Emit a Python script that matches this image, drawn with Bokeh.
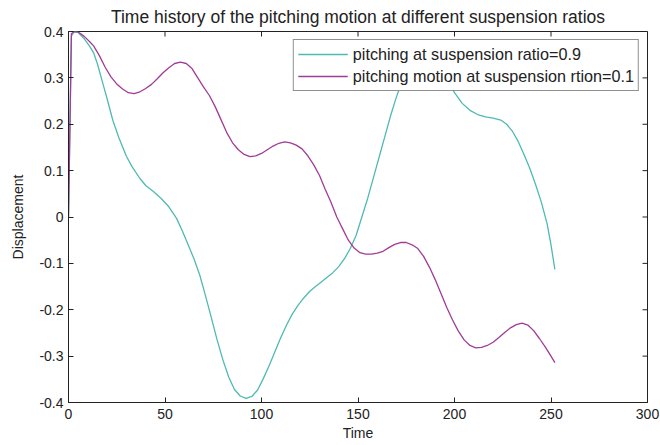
import math
from bokeh.plotting import figure
from bokeh.models import LinearAxis, Range1d, Legend, LegendItem, FixedTicker
from bokeh.embed import file_html
from bokeh.resources import INLINE

# ratio 0.9 (cyan)
t_09 = [0, 1.5, 3, 5, 8, 11, 13, 15, 18, 20, 23, 26, 30, 33, 37, 40, 44, 48, 52, 56,
        59, 62, 65, 68, 71, 74, 77, 80, 83, 86, 89, 92, 95, 98, 101, 104, 107, 110, 113,
        116, 119, 122, 125, 128, 131, 134, 137, 140, 143, 146, 149, 152, 155, 158, 161,
        164, 167, 170, 173, 176, 180, 184, 188, 192, 196, 200, 204, 208, 212, 216, 220,
        224, 227, 230, 233, 236, 239, 242, 245, 248, 250, 252]
y_09 = [0, 0.39, 0.4, 0.398, 0.385, 0.368, 0.354, 0.33, 0.285, 0.255, 0.208, 0.172,
        0.131, 0.108, 0.083, 0.068, 0.055, 0.04, 0.022, -0.003, -0.03, -0.06, -0.09,
        -0.125, -0.17, -0.217, -0.265, -0.308, -0.345, -0.372, -0.386, -0.391, -0.387,
        -0.373, -0.348, -0.32, -0.29, -0.26, -0.233, -0.209, -0.19, -0.174, -0.16, -0.15,
        -0.14, -0.13, -0.12, -0.107, -0.09, -0.068, -0.04, 0.0, 0.04, 0.085, 0.13, 0.175,
        0.22, 0.26, 0.295, 0.32, 0.34, 0.345, 0.338, 0.32, 0.295, 0.268, 0.245, 0.23,
        0.221, 0.216, 0.213, 0.209, 0.2, 0.185, 0.163, 0.135, 0.105, 0.07, 0.032, -0.015,
        -0.06, -0.113]

# ratio 0.1 (magenta)
t_01 = [0, 1.5, 3, 5, 8, 11, 13, 16, 19, 22, 25, 28, 31, 34, 37, 40, 43, 46, 49, 52,
        55, 58, 61, 64, 67, 70, 73, 76, 79, 82, 85, 88, 91, 94, 97, 100, 103, 106, 109,
        112, 115, 118, 121, 124, 127, 130, 133, 136, 139, 142, 145, 148, 151, 154, 157,
        160, 163, 166, 169, 172, 175, 178, 181, 184, 187, 190, 193, 196, 199, 202, 205,
        208, 211, 214, 217, 220, 223, 226, 229, 232, 235, 238, 241, 244, 247, 250, 252]
y_01 = [0, 0.395, 0.4, 0.399, 0.39, 0.378, 0.369, 0.348, 0.323, 0.302, 0.287, 0.276,
        0.268, 0.266, 0.27, 0.277, 0.286, 0.298, 0.311, 0.322, 0.331, 0.334, 0.331, 0.32,
        0.3, 0.28, 0.262, 0.238, 0.21, 0.182, 0.16, 0.145, 0.135, 0.13, 0.132, 0.137,
        0.145, 0.153, 0.159, 0.162, 0.16, 0.155, 0.147, 0.132, 0.113, 0.09, 0.06, 0.032,
        0.0, -0.025, -0.05, -0.067, -0.077, -0.08, -0.08, -0.078, -0.074, -0.066, -0.059,
        -0.055, -0.055, -0.06, -0.068, -0.085, -0.108, -0.135, -0.165, -0.195, -0.222,
        -0.246, -0.265, -0.277, -0.282, -0.281, -0.277, -0.27, -0.26, -0.249, -0.239,
        -0.232, -0.229, -0.233, -0.245, -0.262, -0.28, -0.3, -0.314]

x_ticks = [0, 50, 100, 150, 200, 250, 300]
y_ticks = [-0.4, -0.3, -0.2, -0.1, 0, 0.1, 0.2, 0.3, 0.4]
y_labels = {-0.4: "-0.4", -0.3: "-0.3", -0.2: "-0.2", -0.1: "-0.1", 0: "0",
            0.1: "0.1", 0.2: "0.2", 0.3: "0.3", 0.4: "0.4"}

title = "Time history of the pitching motion at different suspension ratios"
label_09 = "pitching at suspension ratio=0.9"
label_01 = "pitching motion at suspension rtion=0.1"

FONT = "Liberation Sans"
CYAN = "#4fbab3"
MAGENTA = "#a03c96"
INK = "#222222"

p = figure(width=660, height=445, output_backend="svg", toolbar_location=None,
           x_range=Range1d(0, 300), y_range=Range1d(-0.4, 0.4),
           min_border_left=68, min_border_right=13, min_border_top=31,
           min_border_bottom=43, x_axis_location=None, y_axis_location=None)
p.background_fill_color = "white"
p.border_fill_color = "white"
p.outline_line_color = INK
p.outline_line_width = 1
p.xgrid.visible = False
p.ygrid.visible = False

p.title.text = title
p.title.text_font = FONT
p.title.text_font_size = "17.5px"
p.title.text_font_style = "normal"
p.title.align = "center"
p.title.text_color = INK
p.title.standoff = 9


def style_axis(ax):
    ax.major_tick_in = 5
    ax.major_tick_out = 0
    ax.minor_tick_line_color = None
    ax.axis_line_color = INK
    ax.major_tick_line_color = INK
    ax.major_label_text_font = FONT
    ax.major_label_text_font_size = "14px"
    ax.major_label_text_color = INK
    ax.axis_label_text_font = FONT
    ax.axis_label_text_font_size = "14px"
    ax.axis_label_text_font_style = "normal"
    ax.axis_label_text_color = INK


xb = LinearAxis(ticker=FixedTicker(ticks=x_ticks), axis_label="Time")
style_axis(xb)
xb.major_label_standoff = 6
xb.axis_label_standoff = 3
p.add_layout(xb, "below")

yl = LinearAxis(ticker=FixedTicker(ticks=y_ticks), axis_label="Displacement",
                major_label_overrides=y_labels)
style_axis(yl)
yl.major_label_standoff = 5
yl.axis_label_standoff = 10
p.add_layout(yl, "left")

# inward ticks on the top and right edges of the box
p.ray(x=x_ticks, y=[p.y_range.end] * len(x_ticks), length=5, length_units="screen",
      angle=-math.pi / 2, line_color=INK, line_width=1)
p.ray(x=[p.x_range.end] * len(y_ticks), y=y_ticks, length=5, length_units="screen",
      angle=math.pi, line_color=INK, line_width=1)

r1 = p.line(t_09, y_09, line_color=CYAN, line_width=1.3)
r2 = p.line(t_01, y_01, line_color=MAGENTA, line_width=1.3)

legend = Legend(items=[LegendItem(label=label_09, renderers=[r1]),
                       LegendItem(label=label_01, renderers=[r2])],
                location="top_right")
legend.margin = 8
legend.padding = 4
legend.spacing = 2
legend.glyph_width = 50
legend.glyph_height = 20
legend.label_height = 20
legend.label_standoff = 5
legend.label_text_font = FONT
legend.label_text_font_size = "16.2px"
legend.label_text_color = INK
legend.border_line_color = INK
legend.border_line_width = 1
legend.background_fill_color = "white"
legend.background_fill_alpha = 1.0
p.add_layout(legend, "center")

open("out.html", "w").write(file_html(p, INLINE))
